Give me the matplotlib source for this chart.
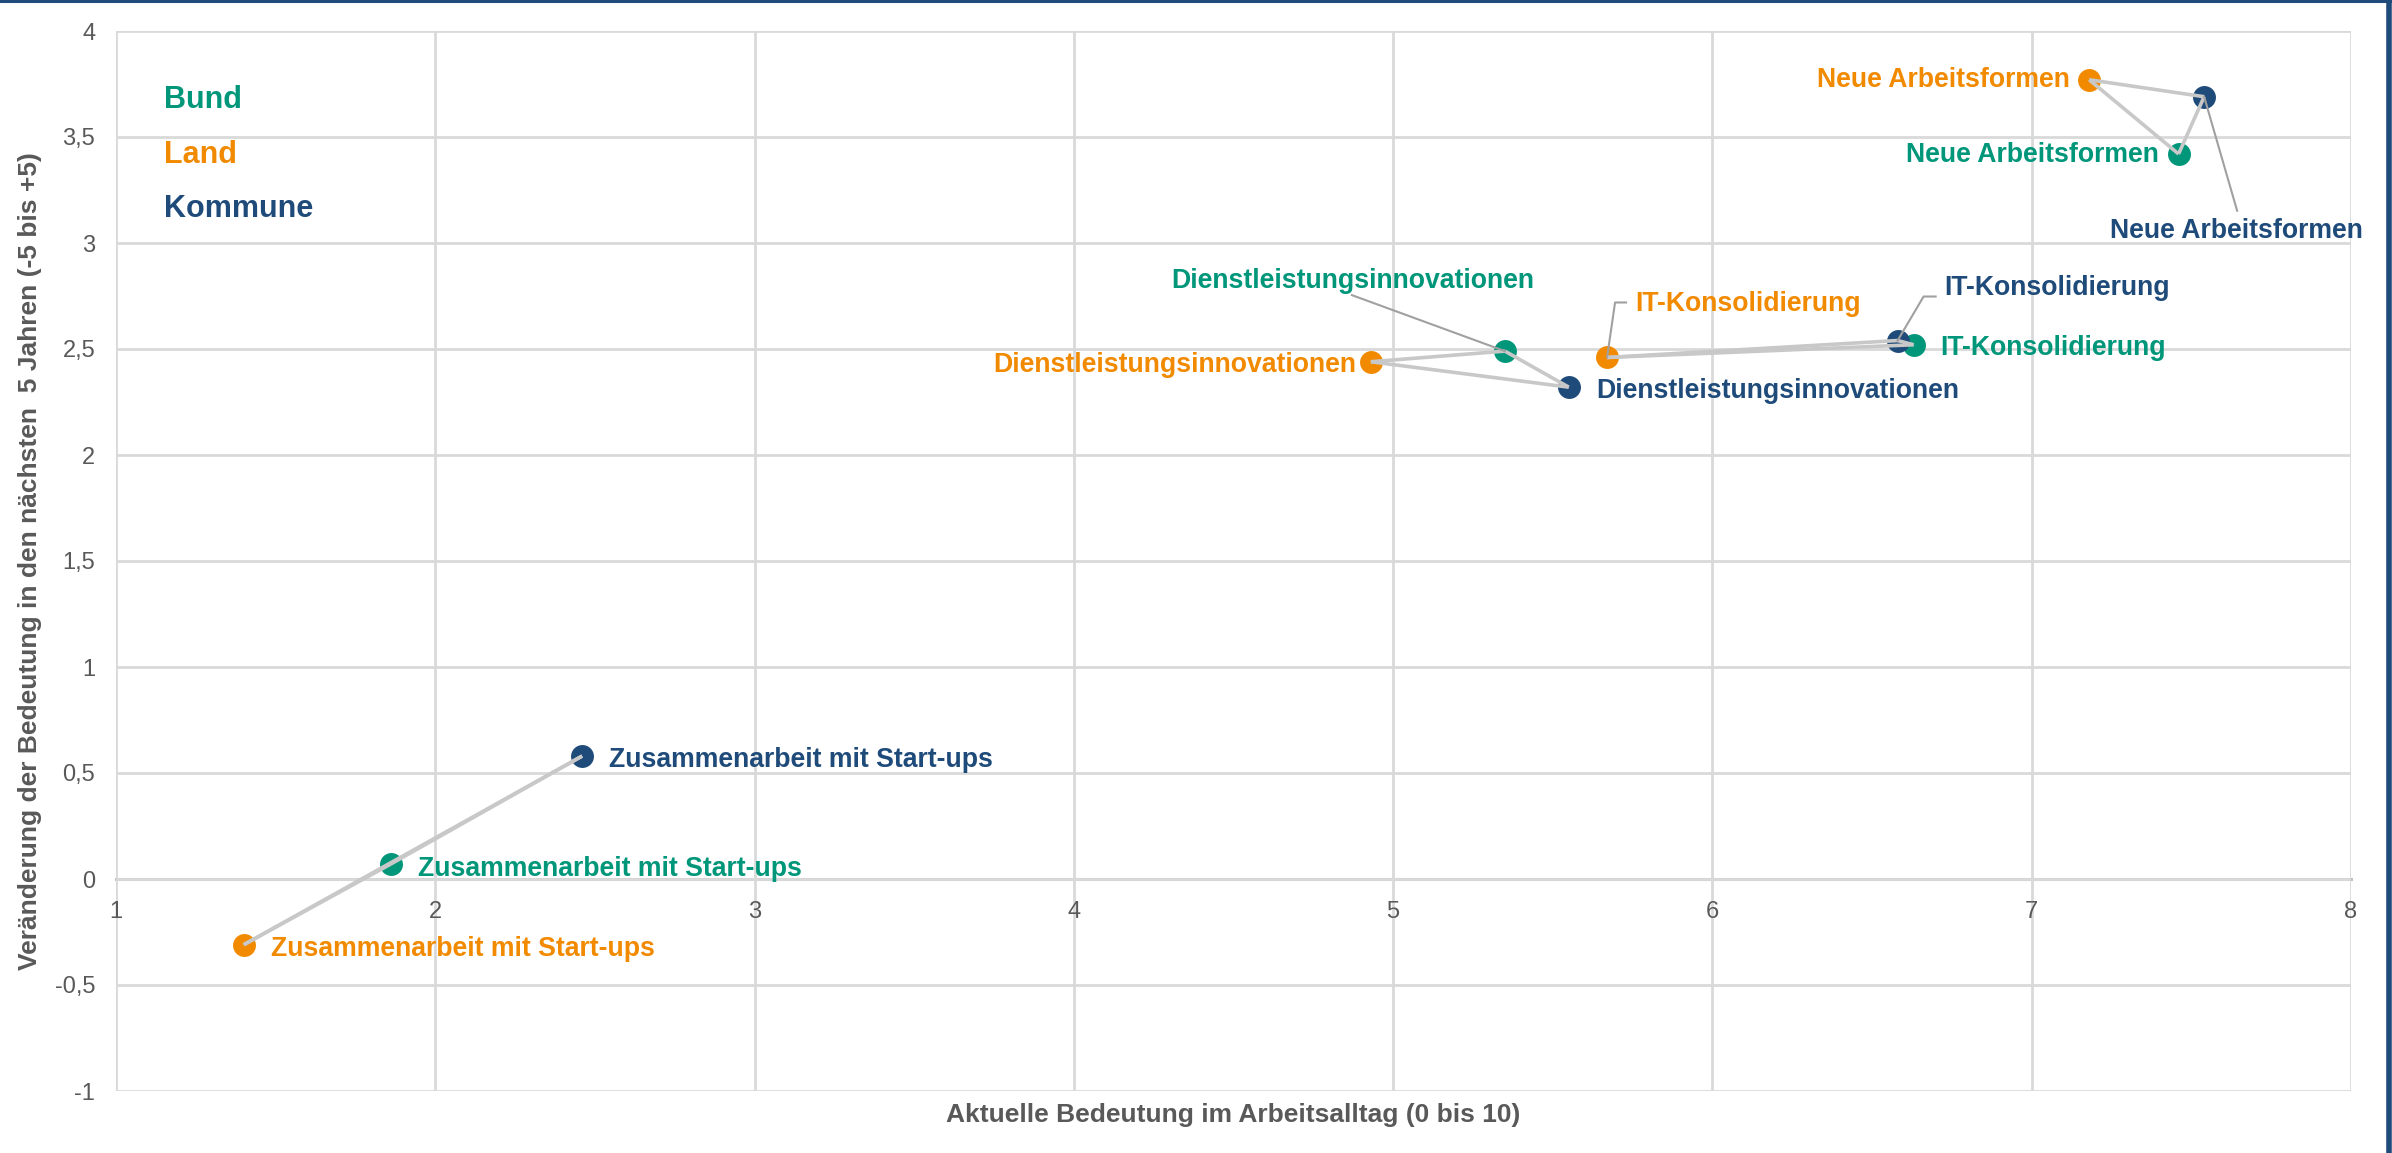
import matplotlib
matplotlib.use("Agg")
import matplotlib.pyplot as plt
from matplotlib.ticker import FuncFormatter

plt.rcParams['font.family'] = ['Liberation Sans', 'DejaVu Sans']

# ---- data ---------------------------------------------------------------
categories = ["Zusammenarbeit mit Start-ups", "Dienstleistungsinnovationen",
              "IT-Konsolidierung", "Neue Arbeitsformen"]
series_names = ["Bund", "Land", "Kommune"]

bund_x = [1.86, 5.35, 6.63, 7.46]
bund_y = [0.07, 2.49, 2.52, 3.42]
land_x = [1.40, 4.93, 5.67, 7.18]
land_y = [-0.31, 2.44, 2.46, 3.77]
kommune_x = [2.46, 5.55, 6.58, 7.54]
kommune_y = [0.58, 2.32, 2.54, 3.69]

x_ticks = [1, 2, 3, 4, 5, 6, 7, 8]
y_ticks = [-1, -0.5, 0, 0.5, 1, 1.5, 2, 2.5, 3, 3.5, 4]

x_title = "Aktuelle Bedeutung im Arbeitsalltag (0 bis 10)"
y_title = "Veränderung der Bedeutung in den nächsten  5 Jahren (-5 bis +5)"

# ---- styles ---------------------------------------------------------------
colors = {"Bund": "#00967A", "Land": "#F28A00", "Kommune": "#1F4B7A"}
grid_c = "#D9D9D9"
text_c = "#595959"
link_c = "#C8C8C8"
leader_c = "#A0A0A0"

series = {
    "Bund": (bund_x, bund_y),
    "Land": (land_x, land_y),
    "Kommune": (kommune_x, kommune_y),
}

# label placement: (dx, dy) in pixels (dy positive = downwards), alignment,
# and optional leader line vertices relative to the point (pixels)
label_layout = {
    ("Bund", 0): (27, 5, "left", None),
    ("Land", 0): (27, 4, "left", None),
    ("Kommune", 0): (27, 4, "left", None),
    ("Bund", 1): (-152, -70, "center", [(-153, -56)]),
    ("Land", 1): (-15, 3, "right", None),
    ("Kommune", 1): (27, 4, "left", None),
    ("Bund", 2): (27, 3.5, "left", None),
    ("Land", 2): (28, -53.5, "left", [(8, -55), (19, -55)]),
    ("Kommune", 2): (47, -53, "left", [(26, -44), (38, -44)]),
    ("Bund", 3): (-20, 1.5, "right", None),
    ("Land", 3): (-19, 0, "right", None),
    ("Kommune", 3): (32, 134, "center", [(33, 114)]),
}

W, H, DPI = 2392, 1153, 100
fig = plt.figure(figsize=(W / DPI, H / DPI), dpi=DPI)
ax = fig.add_axes([116 / W, 1 - 1091 / H, (2351 - 116) / W, (1091 - 31) / H])

ax.set_xlim(x_ticks[0], x_ticks[-1])
ax.set_ylim(y_ticks[0], y_ticks[-1])
ax.set_xticks(x_ticks)
ax.set_yticks(y_ticks)
ax.grid(True, color=grid_c, linewidth=2.0, zorder=0)
ax.set_axisbelow(True)

for s in ("top", "right", "left"):
    ax.spines[s].set_visible(False)
ax.spines["bottom"].set_position(("data", 0))
ax.spines["bottom"].set_color("#BFBFBF")
ax.spines["bottom"].set_linewidth(2.2)
ax.spines["bottom"].set_zorder(0.5)

fmt = FuncFormatter(lambda v, p: ("%g" % v).replace(".", ","))
ax.xaxis.set_major_formatter(fmt)
ax.yaxis.set_major_formatter(fmt)
ax.tick_params(axis="both", length=0, labelsize=17, labelcolor=text_c)
ax.tick_params(axis="x", pad=16)
ax.tick_params(axis="y", pad=15)

# connecting triangles between the three levels of each topic
for i in range(len(categories)):
    pts = [(series[n][0][i], series[n][1][i]) for n in series_names]
    for a, b in ((0, 1), (1, 2), (0, 2)):
        ax.plot([pts[a][0], pts[b][0]], [pts[a][1], pts[b][1]],
                color=link_c, linewidth=2.6, zorder=3, solid_capstyle="butt")

# points
for n in series_names:
    xs, ys = series[n]
    ax.plot(xs, ys, linestyle="none", marker="o", markersize=16.5,
            markerfacecolor=colors[n], markeredgewidth=0, zorder=2)

# labels with optional leader lines
for n in series_names:
    xs, ys = series[n]
    for i, cat in enumerate(categories):
        dx, dy, ha, leader = label_layout[(n, i)]
        ax.annotate(cat, (xs[i], ys[i]), xytext=(dx, -dy),
                    textcoords="offset pixels", ha=ha, va="center",
                    fontsize=19.2, fontweight="bold", color=colors[n], zorder=5)
        if leader:
            disp0 = ax.transData.transform((xs[i], ys[i]))
            verts = [disp0] + [(disp0[0] + lx, disp0[1] - ly) for lx, ly in leader]
            dv = [ax.transData.inverted().transform(v) for v in verts]
            ax.plot([v[0] for v in dv], [v[1] for v in dv], color=leader_c,
                    linewidth=1.5, zorder=4)

# series key in the upper left corner
key_y = [0.9349, 0.8830, 0.8321]
for n, ky in zip(series_names, key_y):
    ax.text(0.0215, ky, n, transform=ax.transAxes, ha="left", va="center",
            fontsize=22, fontweight="bold", color=colors[n])

# axis titles
fig.text((116 + 2351) / 2 / W, 1 - 1115 / H, x_title, ha="center", va="center",
         fontsize=19, fontweight="bold", color=text_c)
fig.text(30 / W, 1 - 561 / H, y_title, ha="center", va="center", rotation=90,
         fontsize=19, fontweight="bold", color=text_c)

# frame lines along the top and right edge of the figure
fig.add_artist(plt.Line2D([0, 1], [1 - 1 / H, 1 - 1 / H], color="#1F4B7A",
                          linewidth=2.2, transform=fig.transFigure))
fig.add_artist(plt.Line2D([1 - 3 / W, 1 - 3 / W], [0, 1], color="#1F4B7A",
                          linewidth=4, transform=fig.transFigure))

fig.savefig("out.png", dpi=DPI, facecolor="white")
